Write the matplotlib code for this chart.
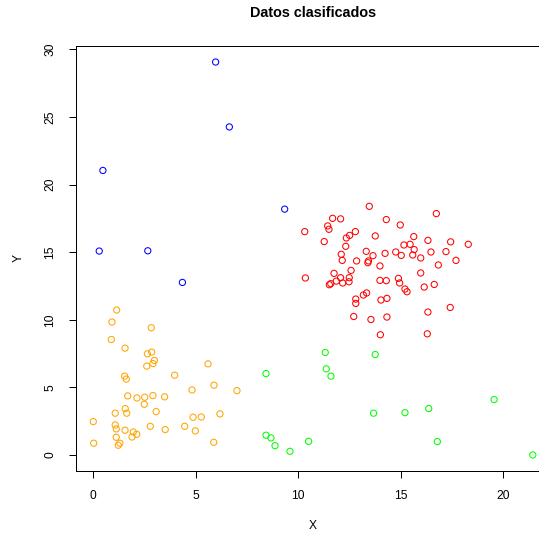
import matplotlib
matplotlib.use("Agg")
import matplotlib.pyplot as plt
import numpy as np

plt.rcParams['font.family'] = ['Liberation Sans', 'DejaVu Sans']

# Cluster data
orange_x = [1.14, 0.91, 2.83, 0.88, 1.55, 2.85, 2.64, 2.98, 2.91, 2.61, 5.60, 3.97, 1.53, 1.61,
            5.89, 4.82, 7.01, 1.68, 2.91, 2.13, 2.51, 3.48, 2.49, 1.56, 1.07, 1.63, 3.07, 0.00,
            4.87, 5.27, 6.18, 1.07, 1.12, 1.55, 1.95, 2.12, 1.89, 2.78, 3.51, 4.46, 4.98, 1.12,
            0.02, 1.30, 1.22, 5.88]
orange_y = [10.72, 9.83, 9.41, 8.54, 7.90, 7.61, 7.48, 6.99, 6.76, 6.57, 6.74, 5.90, 5.83, 5.61,
            5.16, 4.81, 4.76, 4.37, 4.39, 4.22, 4.27, 4.30, 3.75, 3.43, 3.09, 3.09, 3.21, 2.47,
            2.79, 2.81, 3.04, 2.22, 1.93, 1.83, 1.70, 1.53, 1.33, 2.12, 1.88, 2.12, 1.78, 1.31,
            0.87, 0.87, 0.72, 0.94]

green_x = [11.32, 13.76, 8.43, 11.37, 11.60, 19.56, 13.68, 15.21, 16.37, 8.43, 8.67, 8.87,
           10.51, 9.60, 16.79, 21.45]
green_y = [7.58, 7.43, 6.02, 6.37, 5.83, 4.10, 3.09, 3.13, 3.43, 1.46, 1.26, 0.69,
           1.01, 0.27, 0.99, 0.00]

blue_x = [5.97, 6.64, 0.47, 9.34, 0.29, 2.66, 4.35]
blue_y = [29.06, 24.26, 21.04, 18.18, 15.08, 15.10, 12.76]

red_x = [13.47, 14.30, 11.68, 12.07, 10.32, 11.44, 11.50, 11.27, 12.79, 12.51, 12.35, 13.76,
         12.32, 12.10, 12.15, 13.32, 13.65, 14.24, 12.85, 13.43, 13.40, 13.99, 10.35, 11.75,
         12.58, 12.07, 12.49, 11.86, 12.48, 12.17, 11.59, 11.52, 13.99, 14.30, 13.34, 13.18,
         12.81, 12.81, 14.04, 14.33, 12.71, 13.55, 14.33, 14.01,
         16.74, 14.98, 15.64, 16.33, 17.44, 18.30, 15.16, 15.46, 15.66, 14.76, 15.03, 15.59,
         15.98, 16.48, 17.21, 17.70, 16.84, 15.98, 14.89, 14.95, 15.21, 15.31, 16.15, 16.64,
         16.33, 17.42, 16.30]
red_y = [18.39, 17.41, 17.50, 17.46, 16.52, 16.94, 16.69, 15.78, 16.52, 16.24, 16.05, 16.20,
         15.43, 14.84, 14.39, 15.06, 14.74, 14.91, 14.35, 14.35, 14.22, 13.98, 13.09, 13.43,
         13.65, 13.11, 13.11, 12.86, 12.81, 12.72, 12.67, 12.59, 12.91, 12.89, 11.98, 11.83,
         11.53, 11.21, 11.46, 11.58, 10.24, 10.02, 10.20, 8.89,
         17.85, 17.01, 16.15, 15.87, 15.76, 15.58, 15.53, 15.58, 15.19, 15.01, 14.76, 14.79,
         14.57, 15.01, 15.04, 14.39, 14.05, 13.46, 13.06, 12.72, 12.27, 12.07, 12.42, 12.61,
         10.57, 10.91, 8.96]

groups = [
    (red_x, red_y, '#FF0000'),
    (orange_x, orange_y, '#FFA500'),
    (green_x, green_y, '#00FF00'),
    (blue_x, blue_y, '#0000FF'),
]

title = "Datos clasificados"
xlabel = "X"
ylabel = "Y"
xticks = [0, 5, 10, 15, 20]
yticks = [0, 5, 10, 15, 20, 25, 30]

W, H, DPI = 539, 537, 100
fig = plt.figure(figsize=(W / DPI, H / DPI), dpi=DPI)
fig.patch.set_facecolor('white')
ax = fig.add_axes([75.7 / W, 66.3 / H, (550.4 - 75.7) / W, (470.7 - 46.3) / H])

for xs, ys, col in groups:
    ax.scatter(xs, ys, s=20, facecolors='none', edgecolors=col, linewidths=0.75, clip_on=False)

allx = np.concatenate([g[0] for g in groups])
ally = np.concatenate([g[1] for g in groups])
ex = 0.04 * (allx.max() - allx.min())
ey = 0.04 * (ally.max() - ally.min())
ax.set_xlim(allx.min() - ex, allx.max() + ex)
ax.set_ylim(ally.min() - ey, ally.max() + ey)

ax.set_xticks(xticks)
ax.set_yticks(yticks)
ax.tick_params(direction='out', length=5.0, width=0.72, labelsize=8.64, pad=9, colors='black')
for lab in ax.get_yticklabels():
    lab.set_rotation(90)
    lab.set_va('center')
    lab.set_ha('right')
for sp in ['left', 'top', 'bottom', 'right']:
    ax.spines[sp].set_linewidth(0.72)
    ax.spines[sp].set_color('black')

ax.set_xlabel(xlabel, fontsize=8.64, labelpad=13)
ax.set_ylabel(ylabel, fontsize=8.64, labelpad=14)
fig.text(313 / W, 1 - 13 / H, title, fontsize=10.37, fontweight='bold', ha='center', va='center')

fig.savefig("out.png", dpi=DPI, facecolor='white')
